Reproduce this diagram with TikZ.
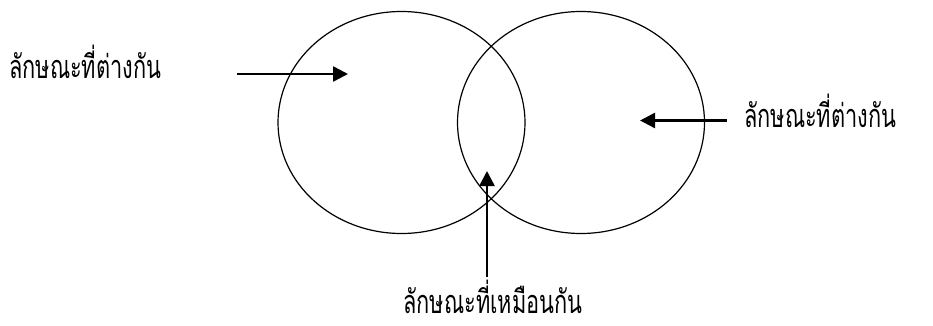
\documentclass[tikz,border=0pt]{standalone}
\usepackage{fontspec}
\usepackage{graphicx}
\newfontfamily\thaifont[Script=Thai,FakeStretch=0.87]{Loma}
\newcommand{\thtxt}[1]{\scalebox{1}[1.3]{#1}}
\usetikzlibrary{arrows.meta,shapes.geometric}
\begin{document}
\begin{tikzpicture}[x=1pt,y=-1pt,
  circ/.style={draw,ellipse,line width=1.2pt,minimum width=247pt,minimum height=222pt,inner sep=0pt},
  lab/.style={font=\thaifont\fontsize{25}{28}\selectfont,inner sep=0pt},
  arr/.style={line width=2.5pt,-{Triangle[length=15pt,width=15pt]}}]
\useasboundingbox (0,0) rectangle (933,326);
\node[circ] (L) at (401.5,122.5) {};
\node[circ] (R) at (581,122.5) {};
\node[lab,anchor=base west] (tl) at (9,79) {\thtxt{ลักษณะที่ต่างกัน}};
\node[lab,anchor=base west] (tr) at (744,128) {\thtxt{ลักษณะที่ต่างกัน}};
\node[lab,anchor=base] (tb) at (493,313) {\thtxt{ลักษณะที่เหมือนกัน}};
\coordinate (a1s) at (237,74);
\coordinate (a1e) at (348,74);
\coordinate (a2s) at (727,120.5);
\coordinate (a2e) at (640,120.5);
\coordinate (a3s) at (487,277);
\coordinate (a3e) at (487,171);
\draw[arr] (a1s) -- (a1e);
\draw[arr] (a2s) -- (a2e);
\draw[arr] (a3s) -- (a3e);
\end{tikzpicture}
\end{document}
